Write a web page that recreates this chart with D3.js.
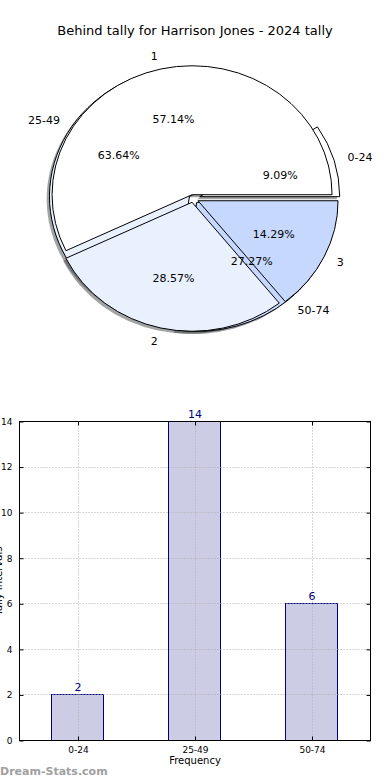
<!DOCTYPE html>
<html>
<head>
<meta charset="utf-8">
<script src="https://cdn.jsdelivr.net/npm/d3@7"></script>
<style>
  html, body { margin: 0; padding: 0; background: #fff; }
  svg { display: block; }
  text { font-family: "DejaVu Sans", sans-serif; }
</style>
</head>
<body>
<div id="chart"></div>
<script>
// ---------- data ----------
const chartTitle = "Behind tally for Harrison Jones - 2024 tally";
const tallyCategories = ["1", "2", "3"];
const tallyValues = [4, 2, 1];
const intervalCategories = ["0-24", "25-49", "50-74"];
const intervalValues = [2, 14, 6];
const yTickValues = [0, 2, 4, 6, 8, 10, 12, 14];
const xAxisLabel = "Frequency";
const yAxisLabel = "Tally Intervals";
const watermark = "Dream-Stats.com";

// ---------- styles ----------
const pieColors = ["#ffffff", "#eaf1fe", "#c6d8fe"];
const explodeIntervals = [0.05, 0.03, 0.04];
const explodeTally = [0.03, 0.03, 0.04];

const W = 390, H = 780;
const svg = d3.select("#chart").append("svg").attr("width", W).attr("height", H);

// ---------- title ----------
svg.append("text").attr("x", 195).attr("y", 34.5).attr("text-anchor", "middle")
  .attr("font-size", 13).attr("fill", "#000").text(chartTitle);

// ---------- pie ----------
const cx = 193, cy = 198.5, rx = 140, ry = 129;
const arcGen = d3.arc().innerRadius(0).outerRadius(1);

function pieLayout(values, explode) {
  const total = d3.sum(values);
  let acc = 0;
  return values.map((v, i) => {
    const t1 = acc / total * 2 * Math.PI;
    acc += v;
    const t2 = acc / total * 2 * Math.PI;
    const tm = (t1 + t2) / 2;
    const ox = cx + explode[i] * rx * Math.cos(tm);
    const oy = cy - explode[i] * ry * Math.sin(tm);
    return { i, v, t1, t2, tm, ox, oy, pct: (v / total * 100).toFixed(2) + "%" };
  });
}

const slicesA = pieLayout(intervalValues, explodeIntervals);
const slicesB = pieLayout(tallyValues, explodeTally);

function pathFor(s) {
  return arcGen({ startAngle: Math.PI / 2 - s.t2, endAngle: Math.PI / 2 - s.t1 });
}

const pieG = svg.append("g");
const shadowOff = 0.02;
[...slicesA, ...slicesB].forEach(s => {
  const c = d3.rgb(pieColors[s.i]);
  const sc = d3.rgb(c.r * 0.3, c.g * 0.3, c.b * 0.3);
  pieG.append("path").attr("d", pathFor(s))
    .attr("transform", `translate(${s.ox - shadowOff * rx},${s.oy + shadowOff * ry}) scale(${rx},${ry})`)
    .attr("fill", sc).attr("fill-opacity", 0.5).attr("stroke", "none");
});
function drawWedges(slices) {
  slices.forEach(s => {
    pieG.append("path").attr("d", pathFor(s))
      .attr("transform", `translate(${s.ox},${s.oy}) scale(${rx},${ry})`)
      .attr("fill", pieColors[s.i]).attr("stroke", "#000").attr("stroke-width", 1)
      .attr("vector-effect", "non-scaling-stroke").attr("stroke-linejoin", "round");
  });
}
drawWedges(slicesA);
drawWedges(slicesB);

function drawLabels(slices, cats) {
  slices.forEach(s => {
    const lx = s.ox + 1.1 * rx * Math.cos(s.tm);
    const ly = s.oy - 1.1 * ry * Math.sin(s.tm);
    pieG.append("text").attr("x", lx).attr("y", ly).attr("dy", "0.36em")
      .attr("text-anchor", lx > cx ? "start" : "end")
      .attr("font-size", 11).attr("fill", "#000").text(cats[s.i]);
    const px = s.ox + 0.6 * rx * Math.cos(s.tm);
    const py = s.oy - 0.6 * ry * Math.sin(s.tm);
    pieG.append("text").attr("x", px).attr("y", py).attr("dy", "0.36em")
      .attr("text-anchor", "middle").attr("font-size", 11).attr("fill", "#000").text(s.pct);
  });
}
drawLabels(slicesA, intervalCategories);
drawLabels(slicesB, tallyCategories);

// ---------- bar chart ----------
const axL = 19.5, axR = 370.5, axT = 421.5, axB = 740.5;
const x = d3.scaleLinear().domain([-0.5, intervalCategories.length - 0.5]).range([axL, axR]);
const y = d3.scaleLinear().domain([0, 14]).range([axB, axT]);
const barW = 0.445;
const gridColor = "#b0b0b0";
const bar = svg.append("g");
const snap = v => Math.round(v - 0.5) + 0.5;

bar.selectAll("rect.bar").data(intervalValues).enter().append("rect")
  .attr("class", "bar")
  .attr("x", (d, i) => snap(x(i - barW / 2))).attr("width", Math.round(x(barW) - x(0)))
  .attr("y", d => snap(y(d))).attr("height", d => snap(y(0)) - snap(y(d)))
  .attr("fill", "#ccccE4").attr("stroke", "#000080").attr("stroke-width", 1);

bar.selectAll("line.hgrid").data(yTickValues).enter().append("line")
  .attr("x1", axL).attr("x2", axR).attr("y1", d => snap(y(d))).attr("y2", d => snap(y(d)))
  .attr("stroke", gridColor).attr("stroke-width", 1).attr("stroke-dasharray", "1,2");
bar.selectAll("line.vgrid").data(intervalCategories).enter().append("line")
  .attr("x1", (d, i) => snap(x(i))).attr("x2", (d, i) => snap(x(i)))
  .attr("y1", axT).attr("y2", axB)
  .attr("stroke", gridColor).attr("stroke-width", 1).attr("stroke-dasharray", "1,2");

const yAxisL = d3.axisLeft(y).tickValues(yTickValues).tickSizeInner(-4).tickSizeOuter(0).tickPadding(7);
const yAxisR = d3.axisRight(y).tickValues(yTickValues).tickSizeInner(-4).tickSizeOuter(0).tickFormat("");
const xAxisB = d3.axisBottom(x).tickValues(d3.range(intervalCategories.length))
  .tickFormat(i => intervalCategories[i]).tickSizeInner(-4).tickSizeOuter(0).tickPadding(6);
const xAxisT = d3.axisTop(x).tickValues(d3.range(intervalCategories.length)).tickSizeInner(-4).tickSizeOuter(0).tickFormat("");

function styleAxis(g) {
  g.select(".domain").remove();
  g.selectAll(".tick line").attr("stroke", "#000");
  g.selectAll(".tick text").attr("font-family", "'DejaVu Sans Condensed', 'Liberation Sans Narrow', 'DejaVu Sans', sans-serif")
    .attr("font-size", 9).attr("fill", "#000");
}
svg.append("g").attr("transform", `translate(${axL},0)`).call(yAxisL).call(styleAxis);
svg.append("g").attr("transform", `translate(${axR},0)`).call(yAxisR).call(styleAxis);
svg.append("g").attr("transform", `translate(0,${axB})`).call(xAxisB).call(styleAxis);
svg.append("g").attr("transform", `translate(0,${axT})`).call(xAxisT).call(styleAxis);

svg.append("rect").attr("x", axL).attr("y", axT).attr("width", axR - axL).attr("height", axB - axT)
  .attr("fill", "none").attr("stroke", "#000").attr("stroke-width", 1);

bar.selectAll("text.val").data(intervalValues).enter().append("text")
  .attr("x", (d, i) => x(i)).attr("y", d => y(d) - 4)
  .attr("text-anchor", "middle").attr("font-size", 11).attr("fill", "#000080").text(d => d);

svg.append("text").attr("x", x(1)).attr("y", 764).attr("text-anchor", "middle")
  .attr("font-size", 10).attr("fill", "#000").text(xAxisLabel);
svg.append("text").attr("transform", `translate(1.5,${(axT + axB) / 2}) rotate(-90)`)
  .attr("text-anchor", "middle").attr("font-size", 10).attr("fill", "#000").text(yAxisLabel);

svg.append("text").attr("x", 0).attr("y", 775).attr("font-size", 11).attr("font-weight", 600)
  .attr("fill", "#a0a0a0").text(watermark);
</script>
</body>
</html>
